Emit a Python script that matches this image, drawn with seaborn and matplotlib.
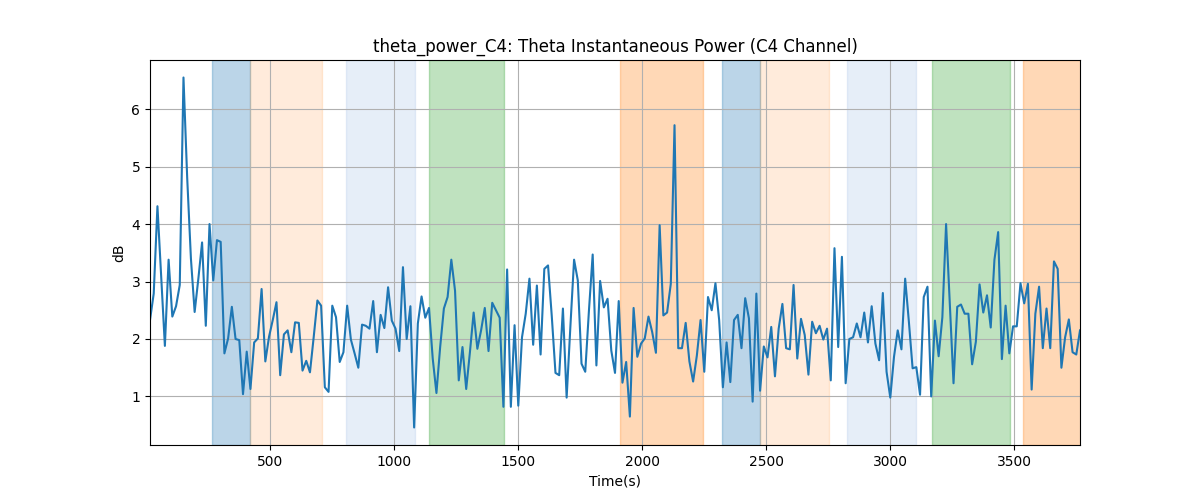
import numpy as np
import matplotlib
matplotlib.use("Agg")
import matplotlib.pyplot as plt
import seaborn as sns

# Time axis: one sample every 15 s
time_s = np.arange(15, 3766, 15)

theta_db = [
    2.33, 2.79, 4.31, 3.10, 1.88, 3.38, 2.39, 2.57, 2.94, 6.55,
    4.80, 3.40, 2.47, 3.05, 3.68, 2.23, 4.00, 3.02, 3.72, 3.69,
    1.75, 2.01, 2.56, 2.00, 1.98, 1.04, 1.78, 1.13, 1.94, 2.01,
    2.87, 1.61, 2.04, 2.33, 2.64, 1.37, 2.08, 2.15, 1.77, 2.29,
    2.28, 1.45, 1.62, 1.42, 2.03, 2.67, 2.58, 1.16, 1.08, 2.58,
    2.38, 1.60, 1.77, 2.58, 1.99, 1.75, 1.50, 2.25, 2.23, 2.18,
    2.66, 1.77, 2.42, 2.19, 2.90, 2.32, 2.18, 1.79, 3.25, 2.00,
    2.57, 0.46, 2.27, 2.74, 2.37, 2.54, 1.66, 1.06, 1.86, 2.53,
    2.73, 3.38, 2.84, 1.28, 1.86, 1.13, 1.77, 2.46, 1.83, 2.15,
    2.54, 1.79, 2.63, 2.50, 2.37, 0.82, 3.21, 0.82, 2.24, 0.84,
    2.03, 2.44, 3.05, 1.90, 2.93, 1.73, 3.22, 3.28, 2.40, 1.41,
    1.37, 2.53, 0.98, 2.21, 3.38, 3.02, 1.57, 1.43, 2.50, 3.47,
    1.54, 3.01, 2.55, 2.70, 1.80, 1.41, 2.66, 1.24, 1.60, 0.65,
    2.54, 1.69, 1.92, 2.01, 2.39, 2.12, 1.76, 3.98, 2.41, 2.46,
    2.96, 5.72, 1.84, 1.84, 2.28, 1.61, 1.26, 1.71, 2.33, 1.43,
    2.73, 2.50, 2.97, 2.33, 1.16, 1.94, 1.25, 2.33, 2.42, 1.84,
    2.71, 2.36, 0.91, 2.79, 1.10, 1.87, 1.68, 2.21, 1.35, 2.18,
    2.61, 1.84, 1.82, 2.94, 1.66, 2.35, 2.07, 1.38, 2.30, 2.10,
    2.23, 1.99, 2.18, 1.28, 3.58, 1.86, 3.43, 1.23, 2.00, 2.03,
    2.27, 2.03, 2.46, 1.94, 2.57, 1.92, 1.63, 2.80, 1.43, 0.98,
    1.69, 2.15, 1.82, 3.05, 2.30, 1.49, 1.51, 1.03, 2.73, 2.91,
    1.00, 2.32, 1.70, 2.38, 4.00, 2.60, 1.23, 2.56, 2.60, 2.44,
    2.44, 1.56, 1.95, 2.95, 2.46, 2.76, 2.20, 3.38, 3.86, 1.65,
    2.58, 1.75, 2.22, 2.22, 2.97, 2.62, 2.96, 1.12, 2.44, 2.91,
    1.84, 2.53, 1.84, 3.35, 3.22, 1.50, 2.03, 2.34, 1.77, 1.73,
    2.15,
]

# Shaded segments (start, end, colour, alpha)
span_start = [265, 418, 805, 1141, 1910, 2321, 2475, 2827, 3168, 3536]
span_end = [418, 708, 1083, 1442, 2244, 2475, 2754, 3103, 3482, 3800]
span_color = ["tab:blue", "tab:orange", "#aec7e8", "tab:green", "tab:orange",
              "tab:blue", "tab:orange", "#aec7e8", "tab:green", "tab:orange"]
span_alpha = [0.3, 0.15, 0.3, 0.3, 0.3, 0.3, 0.15, 0.3, 0.3, 0.3]

fig, ax = plt.subplots(figsize=(12, 5), dpi=100)

for s, e, c, a in zip(span_start, span_end, span_color, span_alpha):
    ax.axvspan(s, e, color=c, alpha=a)

sns.lineplot(x=time_s, y=theta_db, ax=ax, color="tab:blue", linewidth=1.5)

ax.set_xlim(time_s.min(), time_s.max())
ax.grid(True)
ax.set_title("theta_power_C4: Theta Instantaneous Power (C4 Channel)")
ax.set_xlabel("Time(s)")
ax.set_ylabel("dB")

plt.savefig("out.png")
